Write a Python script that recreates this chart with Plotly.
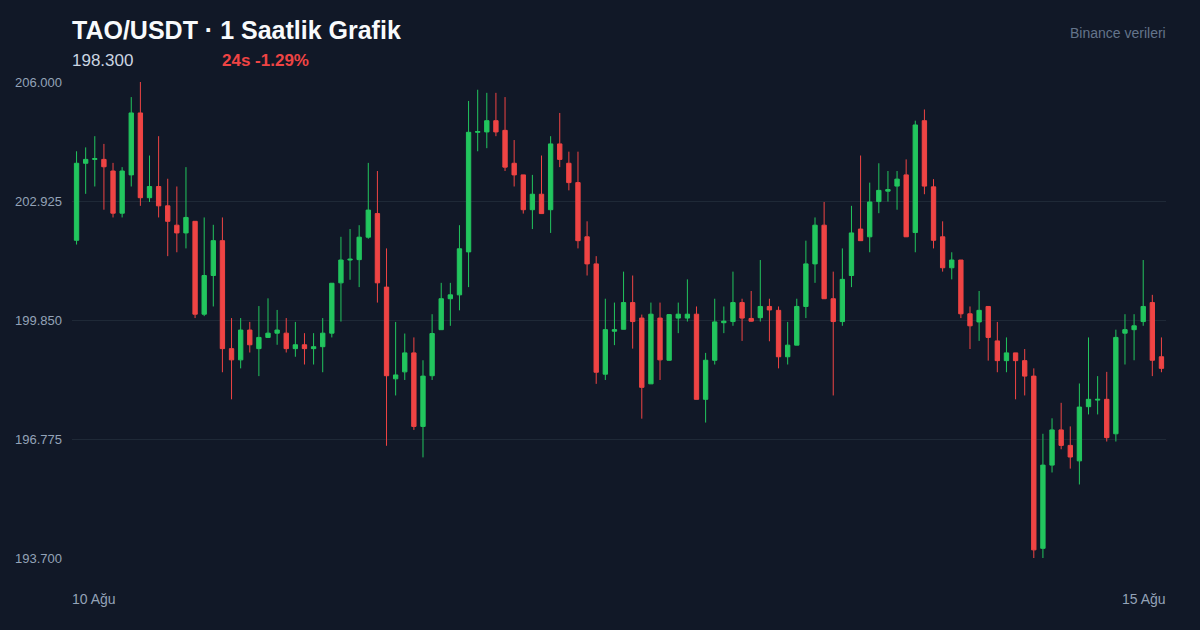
import plotly.graph_objects as go
import pandas as pd

# Hourly candles, 10 Aug 00:00 -> 14 Aug 23:00
opens = [201.91, 203.90, 204.00, 204.00, 203.70, 202.61, 203.60, 205.20, 203.01, 203.30,
         202.80, 202.30, 202.10, 202.40, 200.00, 201.00, 201.90, 199.11, 198.82, 199.59,
         199.11, 199.40, 199.51, 199.51, 199.11, 199.21, 199.11, 199.16, 199.51, 200.81,
         201.40, 201.41, 201.99, 202.60, 200.70, 198.33, 198.51, 199.00, 197.10, 198.41,
         199.60, 200.40, 200.50, 201.61, 204.70, 204.71, 205.00, 204.75, 203.90, 203.60,
         202.70, 203.10, 202.70, 204.40, 203.90, 203.40, 202.00, 201.30, 198.45, 199.56,
         199.61, 200.30, 199.90, 198.20, 199.90, 198.81, 199.90, 199.90, 200.00, 197.80,
         198.81, 199.78, 199.81, 200.30, 199.89, 199.91, 200.20, 200.10, 198.90, 199.20,
         200.20, 201.30, 202.30, 200.40, 199.81, 201.00, 202.20, 202.00, 202.91, 203.18,
         203.31, 203.60, 202.11, 205.00, 203.29, 202.00, 201.20, 201.40, 200.01, 199.80,
         200.20, 199.31, 198.80, 199.00, 198.80, 198.40, 193.95, 196.10, 197.01, 196.61,
         196.21, 197.61, 197.78, 197.80, 196.91, 199.51, 199.60, 199.81, 200.30, 198.90]
highs = [204.21, 204.31, 204.60, 204.40, 203.91, 203.80, 205.61, 206.00, 204.10, 204.60,
         203.50, 203.30, 203.80, 202.40, 202.50, 202.31, 202.50, 199.90, 199.90, 199.80,
         200.21, 200.41, 200.11, 199.90, 199.80, 199.51, 199.51, 199.90, 200.80, 202.00,
         202.20, 202.30, 203.91, 203.70, 201.70, 199.80, 199.50, 199.40, 198.81, 200.00,
         200.81, 200.81, 202.30, 205.51, 205.80, 205.72, 205.72, 205.61, 204.50, 203.60,
         203.60, 204.10, 204.60, 205.20, 204.20, 204.20, 202.40, 201.50, 200.40, 200.30,
         201.10, 201.00, 199.99, 200.30, 200.30, 200.00, 200.30, 200.90, 200.20, 199.00,
         200.40, 200.20, 201.10, 200.40, 200.60, 201.40, 200.40, 200.20, 199.80, 200.40,
         201.90, 202.50, 202.90, 201.10, 201.70, 202.80, 204.10, 203.40, 203.90, 203.70,
         203.70, 204.00, 205.00, 205.29, 203.49, 202.40, 201.60, 201.40, 200.20, 200.60,
         200.20, 199.80, 199.40, 199.00, 199.10, 198.60, 196.91, 197.31, 197.71, 197.10,
         198.21, 199.40, 198.40, 198.51, 199.60, 200.00, 200.00, 201.40, 200.50, 199.40]
lows = [201.80, 203.11, 203.30, 202.70, 202.50, 202.50, 203.30, 202.80, 202.90, 202.50,
        201.50, 201.60, 201.70, 199.90, 199.95, 200.20, 198.50, 197.80, 198.60, 199.01,
        198.40, 199.40, 199.21, 199.01, 198.90, 198.70, 198.70, 198.50, 199.40, 199.81,
        200.89, 200.70, 201.95, 200.30, 196.60, 197.90, 198.30, 197.01, 196.30, 198.30,
        199.60, 199.70, 200.10, 200.70, 204.21, 204.29, 204.60, 203.70, 203.30, 202.60,
        202.20, 202.60, 202.10, 203.80, 203.20, 201.70, 201.00, 198.20, 198.30, 199.20,
        199.61, 199.11, 197.30, 198.20, 198.30, 198.80, 199.51, 199.81, 197.80, 197.20,
        198.70, 199.51, 199.70, 199.31, 199.81, 199.81, 199.30, 198.60, 198.70, 199.20,
        199.90, 200.81, 200.40, 197.90, 199.70, 200.70, 201.90, 201.60, 202.61, 202.91,
        202.70, 202.00, 201.60, 203.10, 201.70, 201.10, 200.90, 199.90, 199.10, 199.31,
        198.80, 198.50, 198.50, 197.80, 197.90, 193.70, 193.70, 195.91, 196.51, 196.01,
        195.60, 197.41, 197.41, 196.71, 196.71, 198.70, 198.81, 199.70, 198.40, 198.50]
closes = [203.90, 204.00, 204.02, 203.81, 202.61, 203.70, 205.20, 203.01, 203.30, 202.80,
          202.40, 202.10, 202.50, 200.00, 201.00, 201.90, 199.11, 198.82, 199.59, 199.21,
          199.40, 199.51, 199.59, 199.11, 199.21, 199.11, 199.16, 199.51, 200.80, 201.40,
          201.42, 201.99, 202.69, 200.81, 198.41, 198.43, 199.00, 197.10, 198.40, 199.50,
          200.40, 200.50, 201.69, 204.70, 204.72, 205.00, 204.71, 203.80, 203.60, 202.70,
          203.10, 202.60, 204.40, 204.00, 203.40, 201.90, 201.30, 198.50, 199.60, 199.60,
          200.30, 199.81, 198.11, 200.00, 198.82, 199.99, 200.00, 200.00, 197.80, 198.81,
          199.80, 199.82, 200.30, 199.90, 199.82, 200.20, 200.11, 198.90, 199.20, 200.20,
          201.30, 202.30, 200.40, 199.81, 200.90, 202.10, 201.90, 202.90, 203.20, 203.22,
          203.49, 202.00, 204.89, 203.31, 201.91, 201.20, 201.40, 200.01, 199.70, 200.10,
          199.40, 198.80, 199.00, 198.80, 198.40, 193.91, 196.10, 197.01, 196.61, 196.31,
          197.60, 197.80, 197.80, 196.81, 199.40, 199.60, 199.70, 200.20, 198.81, 198.60]

y_ticks = [193.700, 196.775, 199.850, 202.925, 206.000]
x_labels = ["10 Ağu", "15 Ağu"]
title_text = "TAO/USDT · 1 Saatlik Grafik"
last_price = "198.300"
change_text = "24s -1.29%"
source_text = "Binance verileri"

times = pd.date_range("2025-08-10 00:00", periods=len(opens), freq="h")

BG = "#111827"
GREEN = "#22c55e"
RED = "#ef4444"
FONT = "Liberation Sans, Arial, Helvetica, sans-serif"

fig = go.Figure(go.Candlestick(
    x=times, open=opens, high=highs, low=lows, close=closes,
    increasing=dict(line=dict(color=GREEN, width=1), fillcolor=GREEN),
    decreasing=dict(line=dict(color=RED, width=1), fillcolor=RED),
    whiskerwidth=0, hoverinfo="skip", showlegend=False,
))

half = pd.Timedelta(minutes=30)
fig.update_layout(
    width=1200, height=630,
    paper_bgcolor=BG, plot_bgcolor=BG,
    margin=dict(l=72, r=34, t=82, b=72),
    font=dict(family=FONT, color="#94a3b8"),
    boxgap=0.32,
    xaxis=dict(
        type="date", range=[times[0] - half, times[-1] + half],
        showgrid=False, zeroline=False, showticklabels=False, showline=False,
        rangeslider=dict(visible=False), fixedrange=True,
    ),
    yaxis=dict(
        range=[y_ticks[0], y_ticks[-1]], tickvals=y_ticks, tickformat=".3f",
        showgrid=True, gridcolor="#1f2937", gridwidth=1, zeroline=False, showline=False,
        tickfont=dict(size=13, color="#94a3b8"), ticks="", ticklabelstandoff=9,
        fixedrange=True,
    ),
)

ann = [
    dict(text=f"<b>{title_text}</b>", x=0, y=1 + 52 / 476, xanchor="left", yanchor="middle",
         font=dict(size=25, color="#f8fafc"), xshift=-2),
    dict(text=last_price, x=0, y=1 + 21 / 476, xanchor="left", yanchor="middle",
         font=dict(size=17, color="#cbd5e1"), xshift=-2),
    dict(text=f"<b>{change_text}</b>", x=(222 - 72) / 1094, y=1 + 21 / 476, xanchor="left",
         yanchor="middle", font=dict(size=17, color=RED), xshift=-2),
    dict(text=source_text, x=1, y=1 + 49 / 476, xanchor="right", yanchor="middle",
         font=dict(size=14, color="#64748b"), xshift=2),
    dict(text=x_labels[0], x=0, y=-41 / 476, xanchor="left", yanchor="middle",
         font=dict(size=14, color="#94a3b8"), xshift=-2),
    dict(text=x_labels[1], x=1, y=-41 / 476, xanchor="right", yanchor="middle",
         font=dict(size=14, color="#94a3b8"), xshift=2),
]
for a in ann:
    a.update(xref="paper", yref="paper", showarrow=False)
fig.update_layout(annotations=ann)

fig.write_html(
    "out.html",
    config={"displayModeBar": False},
    post_script="document.body.style.margin='0';document.body.style.background='#111827';",
)
